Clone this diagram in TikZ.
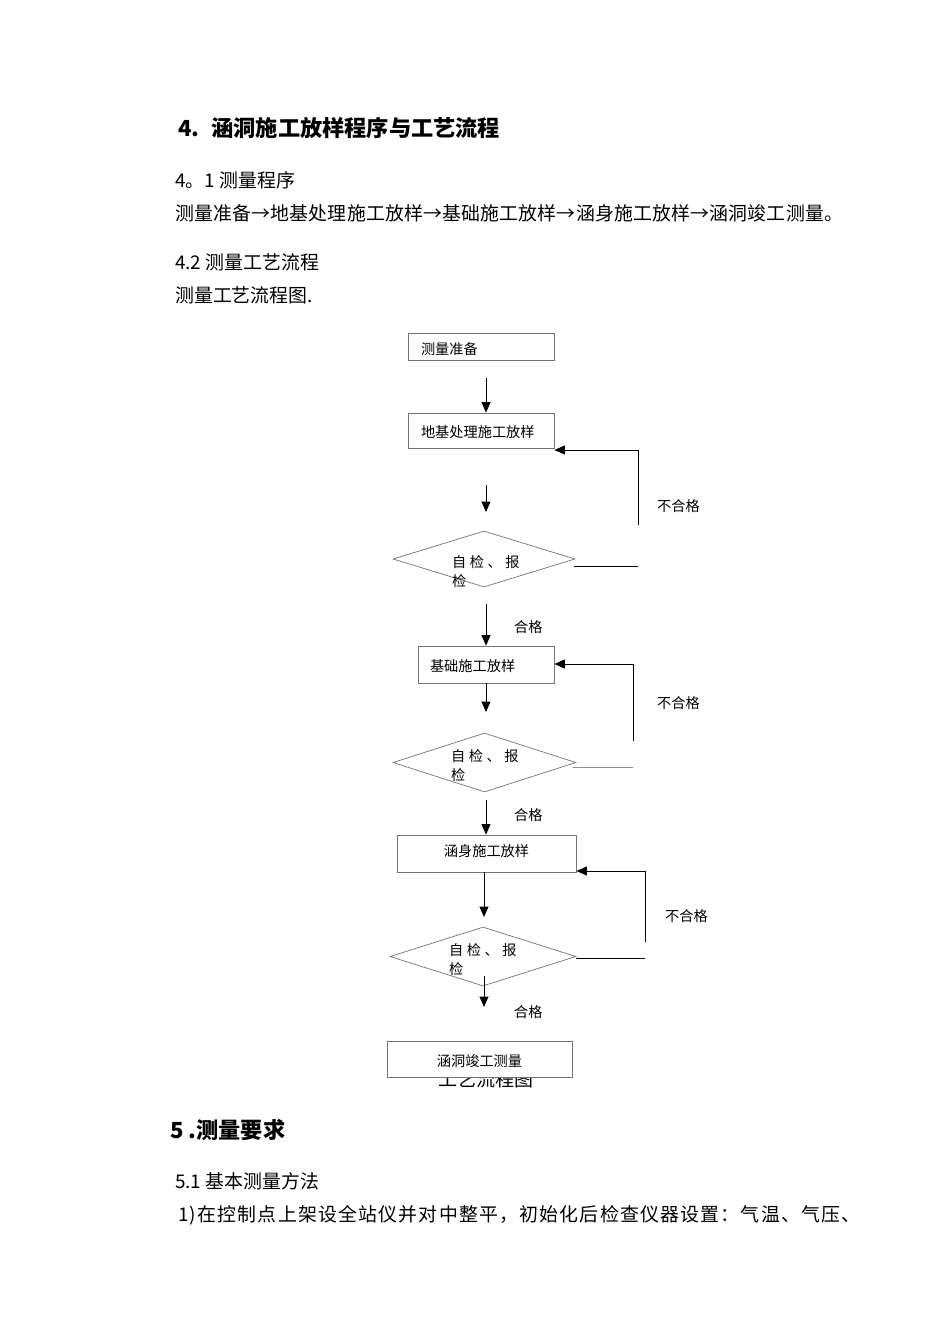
\documentclass[tikz,border=0pt]{standalone}
\usepackage{fontspec}
\setmainfont{Noto Sans CJK SC}
\usetikzlibrary{arrows.meta,shapes.geometric}
\begin{document}
\begin{tikzpicture}[x=1pt,y=-1pt,
  box/.style={draw=black!55, line width=0.8pt, inner ysep=0pt, text depth=0pt, text height=#1, font=\fontsize{14.2}{15}\selectfont},
  dia/.style={draw=black!55, line width=0.7pt, shape=diamond, inner sep=0pt},
  lbl/.style={anchor=west, inner sep=0pt, font=\fontsize{14.2}{15}\selectfont},
  body/.style={anchor=west, inner sep=0pt, font=\fontsize{18.9}{20}\selectfont},
  head/.style={anchor=west, inner sep=0pt, font=\fontsize{22.2}{23}\selectfont\bfseries},
  arr/.style={line width=1pt, -{Triangle[width=9pt,length=10.5pt]}},
  ln/.style={line width=1pt}]
\useasboundingbox[fill=white] (0,0) rectangle (950,1344);

% running text
\node[head] (t1) at (178,128) {4.\hspace{12pt}涵洞施工放样程序与工艺流程};
\node[body] (t2) at (175,180) {4。1 测量程序};
\node[body] (t3) at (175,213) {\addfontfeatures{LetterSpace=1}测量准备→地基处理施工放样→基础施工放样→涵身施工放样→涵洞竣工测量。};
\node[body] (t4) at (175,262) {4.2 测量工艺流程};
\node[body] (t5) at (175,295) {测量工艺流程图.};
\node[head] (t6) at (170,1130) {5 .测量要求};
\node[body] (t7) at (175,1181) {5.1 基本测量方法};
\node[body] (t8) at (178,1215) {\addfontfeatures{LetterSpace=6.5}1)在控制点上架设全站仪并对中整平，初始化后检查仪器设置：气温、气压、};

% caption partly hidden under the last box
\node[anchor=center, inner sep=0pt, font=\fontsize{19}{20}\selectfont] (cap) at (486,1079) {工艺流程图};

% boxes
\node[box=15.8pt, minimum width=146pt, minimum height=27pt, inner xsep=13pt, text width=120pt, align=left] (b1) at (481,346.5) {测量准备};
\node[box=13.8pt, minimum width=146pt, minimum height=35pt, inner xsep=13pt, text width=120pt, align=left] (b2) at (481,430.5) {地基处理施工放样};
\node[box=13.8pt, minimum width=136pt, minimum height=37pt, inner xsep=12pt, text width=112pt, align=left] (b3) at (486,664.5) {基础施工放样};
\node[box=5.8pt, minimum width=179pt, minimum height=37pt] (b4) at (486.5,853.5) {涵身施工放样};
\node[box=14.8pt, fill=white, minimum width=185pt, minimum height=36pt] (b5) at (479.5,1059) {涵洞竣工测量};

% diamonds
\node[dia, minimum width=182pt, minimum height=56pt] (d1) at (484,559) {};
\node[dia, minimum width=183pt, minimum height=59pt] (d2) at (484.5,762.5) {};
\node[dia, minimum width=186pt, minimum height=59pt] (d3) at (483,956.5) {};

\node[lbl] (d1a) at (452,562) {自\hspace{3.5pt}检\hspace{3.5pt}、\hspace{3.5pt}报};
\node[lbl] (d1b) at (452,581) {检};
\node[lbl] (d2a) at (451,756) {自\hspace{3.5pt}检\hspace{3.5pt}、\hspace{3.5pt}报};
\node[lbl] (d2b) at (451,775) {检};
\node[lbl] (d3a) at (449,950) {自\hspace{3.5pt}检\hspace{3.5pt}、\hspace{3.5pt}报};
\node[lbl] (d3b) at (449,969) {检};

% labels
\node[lbl] (n1) at (657,506) {不合格};
\node[lbl] (n2) at (657,703) {不合格};
\node[lbl] (n3) at (665,916) {不合格};
\node[lbl] (g1) at (514,627) {合格};
\node[lbl] (g2) at (514,815) {合格};
\node[lbl] (g3) at (514,1012) {合格};

% arrow coordinates
\coordinate (a1s) at (486,378);
\coordinate (a2s) at (486,485);
\coordinate (a2e) at (486,512);
\coordinate (a3s) at (486,604);
\coordinate (a4e) at (486,712);
\coordinate (a5s) at (486,800);
\coordinate (a6e) at (484,917);
\coordinate (a7s) at (484,976);
\coordinate (a7e) at (484,1007);

\draw[arr] (a1s) -- (a1s |- b2.north);
\draw[arr] (a2s) -- (a2e);
\draw[arr] (a3s) -- (a3s |- b3.north);
\draw[arr] (a3s |- b3.south) -- (a4e);
\draw[arr] (a5s) -- (a5s |- b4.north);
\draw[arr] (a6e |- b4.south) -- (a6e);
\draw[arr] (a7s) -- (a7e);

% feedback loops
\coordinate (f1a) at (574,566);
\coordinate (f1b) at (638,566);
\coordinate (f1c) at (638,525);
\coordinate (f1d) at (638,450);
\draw[ln] (f1a) -- (f1b);
\draw[arr] (f1c) -- (f1d) -- (b2.east |- f1d);

\coordinate (f2a) at (573,767);
\coordinate (f2b) at (633,767);
\coordinate (f2c) at (633,741);
\coordinate (f2d) at (633,664);
\draw[line width=0.8pt, black!45] (f2a) -- (f2b);
\draw[arr] (f2c) -- (f2d) -- (b3.east |- f2d);

\coordinate (f3a) at (576,958);
\coordinate (f3b) at (645,958);
\coordinate (f3c) at (645,942);
\coordinate (f3d) at (645,871);
\draw[ln] (f3a) -- (f3b);
\draw[arr] (f3c) -- (f3d) -- (b4.east |- f3d);
\end{tikzpicture}
\end{document}
